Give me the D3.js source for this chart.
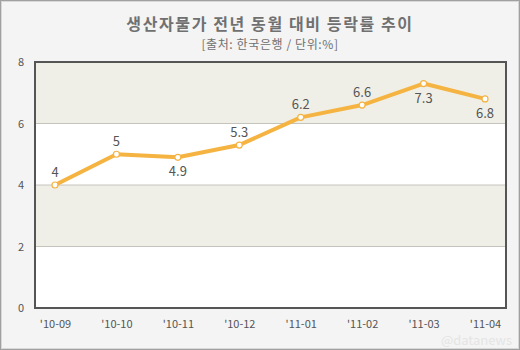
<!DOCTYPE html>
<html><head><meta charset="utf-8">
<script src="https://cdn.jsdelivr.net/npm/d3@7"></script>
<style>body{margin:0;background:#fff}svg{display:block}</style>
</head><body>
<script>
const months = ["'10-09","'10-10","'10-11","'10-12","'11-01","'11-02","'11-03","'11-04"];
const values = [4, 5, 4.9, 5.3, 6.2, 6.6, 7.3, 6.8];
const labelBelow = [false, false, true, false, false, false, true, true];
const yTicks = [0, 2, 4, 6, 8];
const title = "생산자물가 전년 동월 대비 등락률 추이";
const subtitle = "[출처: 한국은행 / 단위:%]";

const W = 520, H = 350;
const svg = d3.select("body").append("svg").attr("width", W).attr("height", H);
const font = "'Noto Sans CJK KR','Noto Sans',sans-serif";

svg.append("rect").attr("x",0.5).attr("y",0.5).attr("width",W-1).attr("height",H-1)
  .attr("fill","#f4f4f4").attr("stroke","#a0a0a0").attr("stroke-width",1);
svg.append("rect").attr("x",1.5).attr("y",1.5).attr("width",W-3).attr("height",H-3)
  .attr("fill","none").attr("stroke","#d8d8d8").attr("stroke-width",1);

const L = 35, T = 62, R = 506, B = 308;
const x = d3.scalePoint().domain(months).range([55, 485]);
const y = d3.scaleLinear().domain([0, 8]).range([B, T]);

// bands
const g = svg.append("g");
g.append("rect").attr("x",L).attr("y",T).attr("width",R-L).attr("height",B-T).attr("fill","#fff");
[[6,8],[2,4]].forEach(([a,b])=>{
  g.append("rect").attr("x",L).attr("y",y(b)).attr("width",R-L).attr("height",y(a)-y(b)).attr("fill","#efefe7");
});
// gridlines
g.selectAll("line.grid").data([2,4,6]).join("line")
  .attr("x1",L).attr("x2",R).attr("y1",d=>y(d)).attr("y2",d=>y(d))
  .attr("stroke","#c4c4bc").attr("stroke-width",1);
g.append("rect").attr("x",L).attr("y",T).attr("width",R-L).attr("height",B-T)
  .attr("fill","none").attr("stroke","#555").attr("stroke-width",2);

// y axis labels
const yAxis = d3.axisLeft(y).tickValues(yTicks).tickSize(0).tickPadding(0).tickFormat(d3.format("d"));
const ya = svg.append("g").attr("transform",`translate(24,0)`).call(yAxis);
ya.select(".domain").remove();
ya.selectAll("text").attr("font-family",font).attr("font-size",11).attr("fill","#555");

// x axis labels
const xAxis = d3.axisBottom(x).tickSize(0).tickPadding(0);
const xa = svg.append("g").attr("transform",`translate(0,320)`).call(xAxis);
xa.select(".domain").remove();
xa.selectAll("text").attr("font-family",font).attr("font-size",11).attr("fill","#555");

// line
const line = d3.line().x((d,i)=>x(months[i])).y(d=>y(d));
svg.append("path").datum(values).attr("d",line).attr("fill","none")
  .attr("stroke","#f5b342").attr("stroke-width",4).attr("stroke-linejoin","round");
svg.selectAll("circle.pt").data(values).join("circle")
  .attr("cx",(d,i)=>x(months[i])).attr("cy",d=>y(d)).attr("r",3)
  .attr("fill","#fff").attr("stroke","#f5b342").attr("stroke-width",1.2);

// value labels
svg.selectAll("text.val").data(values).join("text")
  .attr("x",(d,i)=>x(months[i])).attr("y",(d,i)=>labelBelow[i] ? y(d)+19 : y(d)-8)
  .attr("text-anchor","middle").attr("font-family",font).attr("font-size",13)
  .attr("fill","#555").text(d=>d);

// titles
svg.append("text").attr("x",270).attr("y",30).attr("text-anchor","middle")
  .attr("font-family",font).attr("font-size",16).attr("font-weight","bold")
  .attr("letter-spacing",1.6).attr("fill","#707070").text(title);
svg.append("text").attr("x",270).attr("y",49).attr("text-anchor","middle")
  .attr("font-family",font).attr("font-size",12).attr("letter-spacing",0.6)
  .attr("fill","#707070").text(subtitle);

// watermark
svg.append("text").attr("x",512).attr("y",345).attr("text-anchor","end")
  .attr("font-family",font).attr("font-size",13).attr("fill","#e4e4e4").text("@datanews");
</script>
</body></html>
